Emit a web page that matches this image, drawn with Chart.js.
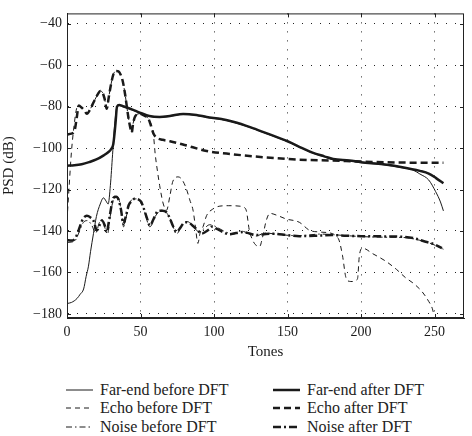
<!DOCTYPE html>
<html>
<head>
<meta charset="utf-8">
<script src="https://cdn.jsdelivr.net/npm/chart.js@4.4.0/dist/chart.umd.min.js"></script>
<style>
body { margin:0; background:#fff; }
#wrap { position:relative; width:472px; height:436px; }
#c { position:absolute; left:0; top:0; }
.leg { position:absolute; font:16px "Liberation Serif", serif; color:#222; line-height:18px; white-space:nowrap; }
.leg svg { position:absolute; left:0; top:4px; }
.leg span { position:absolute; left:34px; top:0; }
</style>
</head>
<body>
<div id="wrap">
  <canvas id="c" width="472" height="365"></canvas>
  <div id="legend"></div>
</div>
<script>
// axis ticks
const xTicks = [0, 50, 100, 150, 200, 250];
const yTicks = [-40, -60, -80, -100, -120, -140, -160, -180];

// far-end signal (thin = before DFT, thick = after DFT)
const farBeforeT = [0, 3, 6.8, 9, 11.3, 13, 14.6, 16, 18, 20, 22.6, 24.8, 26.5, 28, 29.5, 31, 32.5, 34, 35.5, 38, 43, 50, 56, 63, 70, 79, 88, 95, 105, 113, 125, 135.5, 150, 160, 167, 175, 181, 192, 200, 215, 228, 235, 240, 246, 250.7, 254, 256];
const farBeforeV = [-175, -174.5, -172.6, -170.5, -168, -162, -157, -150, -141.3, -133, -127, -124, -125.5, -127, -118, -103, -88, -80, -79.4, -80, -81.2, -83.2, -84.7, -85.2, -84.7, -83.7, -84.2, -85.2, -86.2, -87.5, -90.2, -93, -96.9, -100.2, -102.4, -104.2, -105.5, -106.2, -107, -108, -109.5, -110.5, -112.5, -115.4, -121, -126, -130.3];
const farAfterT = [0, 5, 10, 15, 20, 25, 28, 30, 31.5, 33, 34, 35.5, 38, 43, 50, 56, 63, 70, 79, 88, 95, 105, 113, 125, 135.5, 150, 160, 167, 175, 181, 192, 200, 215, 228, 240, 246, 251, 256];
const farAfterV = [-108.5, -108.3, -107.8, -106.8, -105.5, -103.5, -102, -100.5, -98, -88, -80, -79.2, -79.8, -81, -83, -84.5, -85, -84.5, -83.5, -84, -85, -86, -87.3, -90, -92.8, -96.7, -100, -102.2, -104, -105.3, -106, -106.8, -107.8, -109.2, -111, -112.3, -114.5, -117];

// echo
const echoBeforeT = [0, 1.5, 3, 5, 6.5, 8, 10, 12, 13.5, 16, 18, 21, 22.6, 24, 25.5, 27, 28.5, 30, 31.6, 33.5, 35, 36.5, 38, 39.5, 41.7, 43, 44, 45, 46.5, 49.7, 53, 55.3, 57, 58.7, 60, 61.5, 63, 65.5, 67.7, 70, 72, 75.6, 78, 81, 83.5, 85.8, 87.5, 89, 90.5, 92.5, 95, 99, 104, 110, 117, 120, 122, 124, 126, 128, 131, 133, 135.5, 138, 143, 149, 158, 165, 172, 180.6, 183, 185, 187.4, 189.7, 192, 194, 196.5, 197.6, 198.8, 201, 208, 216.8, 224, 230, 236, 241.6, 246, 248.4, 249.5];
const echoBeforeV = [-135, -118, -102, -88, -81, -79.5, -80.5, -82, -83.4, -81, -78, -74, -72.5, -73, -76, -81, -75, -69, -64.3, -62.8, -63, -64.6, -68, -74, -85, -90, -92.5, -88, -84.5, -83.4, -84.5, -85.7, -88, -93, -103, -111, -118, -127, -130, -123, -116, -113.9, -115, -119.3, -125, -130.3, -139, -146, -141, -138, -132.5, -129.5, -128, -127.8, -128, -128.5, -130.3, -139.7, -144, -146.5, -147.5, -143, -135, -131.5, -132.5, -134.2, -135.8, -139.7, -140.5, -141.3, -142.5, -144.4, -152, -162.5, -164.3, -164.4, -163.8, -163, -152.2, -148.3, -151, -154.6, -158.5, -162.4, -165.5, -169.4, -174, -177.3, -180.3];
const echoAfterT = [0, 3, 5, 6.5, 8, 10, 12, 13.5, 16, 18, 21, 22.6, 24, 25.5, 27, 28.5, 30, 31.6, 33.5, 35, 36.5, 38, 39.5, 41.7, 43, 44, 45, 46.5, 49.7, 53, 55.3, 57, 58.7, 61, 65, 70, 80, 95, 113, 135, 158, 180, 200, 230, 256];
const echoAfterV = [-93.5, -93, -92, -86, -79.5, -80.5, -82, -83.4, -81, -78, -74, -72.5, -73, -76, -81, -75, -69, -64.3, -62.8, -63, -64.6, -68, -74, -85, -90, -92.5, -88, -84.5, -83.4, -84.5, -85.7, -89, -92.8, -95, -96, -96.7, -98.5, -101.4, -103, -104.5, -105.6, -106, -106.5, -107, -107.1];

// noise
const noiseBeforeT = [0, 5, 8, 11, 14, 17, 19.5, 22, 24, 26, 27.5, 30, 32.5, 35, 37, 38.5, 41, 44, 48, 52, 56.4, 60, 64, 68, 71, 74.5, 78, 82, 86, 90, 93, 97, 100, 104, 108, 113, 118, 123, 128, 135, 145, 158, 172, 185, 200, 215, 230, 240, 248, 256];
const noiseBeforeV = [-145.5, -145, -141, -136, -135, -137.5, -141, -136, -134.5, -139, -141.5, -130, -123, -124, -131, -138, -131, -125, -124.5, -129, -138, -133, -130, -131.5, -135.5, -141.5, -137.5, -135.5, -138, -140.5, -139, -137, -137.5, -139, -140.5, -141.5, -140, -141, -142.5, -141, -141.8, -142.3, -141.5, -142, -142.7, -143, -143.2, -144.5, -146.2, -148.8];
const noiseAfterT = [0, 3, 5.6, 7.5, 9, 11, 13.5, 16, 18, 20.3, 22, 23.7, 25.5, 27, 29, 31.6, 33.5, 35, 36.8, 38.3, 40, 42, 44, 46, 48.5, 50.5, 52, 54, 56.4, 59, 62, 65, 67.7, 70, 72, 74.5, 77, 79, 81.3, 84, 86, 88, 90, 91.5, 94, 97, 99, 102, 106, 110.6, 115, 119.6, 124, 128.7, 134, 140, 150, 158, 170, 180.6, 190, 200, 214, 228, 236, 243.9, 250, 255];
const noiseAfterV = [-144.4, -144.6, -143.6, -140.5, -137.4, -134, -132.7, -133.5, -135, -139.7, -137.5, -135, -137, -140.5, -133, -124, -123.5, -124.8, -130, -136.6, -133, -127.5, -125.6, -124.5, -124.8, -126, -128.7, -133, -137.4, -134, -130.3, -130.2, -131, -134, -137.5, -140.5, -138.5, -136.5, -135.8, -136.5, -137.8, -139, -140.5, -141.3, -140.5, -139, -137.8, -139, -140.5, -141.6, -141, -140.5, -141.2, -142, -141.6, -141.3, -142, -142.5, -142.3, -142, -142.3, -142.5, -142.6, -142.8, -143.5, -145.2, -146.5, -148.3];

const serif = '"Liberation Serif", serif';
const ink = '#1a1a1a';

function pts(t, v) {
  return t.map((x, i) => ({ x: x, y: v[i] }));
}

// line styles, same order as legend
const styles = [
  { label: 'Far-end before DFT', t: farBeforeT, v: farBeforeV, w: 1, dash: [] },
  { label: 'Far-end after DFT', t: farAfterT, v: farAfterV, w: 2.5, dash: [] },
  { label: 'Echo before DFT', t: echoBeforeT, v: echoBeforeV, w: 1, dash: [5, 4] },
  { label: 'Echo after DFT', t: echoAfterT, v: echoAfterV, w: 2.5, dash: [7, 4] },
  { label: 'Noise before DFT', t: noiseBeforeT, v: noiseBeforeV, w: 1, dash: [6, 3, 1.5, 3] },
  { label: 'Noise after DFT', t: noiseAfterT, v: noiseAfterV, w: 2.5, dash: [8, 3, 2, 3] }
];

// box round the plot plus little inward ticks (matlab look)
const boxPlugin = {
  id: 'box',
  afterDraw(chart) {
    const a = chart.chartArea, c = chart.ctx;
    const xs = chart.scales.x, ys = chart.scales.y;
    c.save();
    c.strokeStyle = '#222';
    c.lineWidth = 1;
    c.strokeRect(a.left + 0.5, a.top + 0.5, a.right - a.left - 1, a.bottom - a.top - 1);
    c.beginPath();
    xTicks.forEach(v => {
      const px = Math.round(xs.getPixelForValue(v)) + 0.5;
      c.moveTo(px, a.bottom); c.lineTo(px, a.bottom - 4);
      c.moveTo(px, a.top); c.lineTo(px, a.top + 4);
    });
    yTicks.forEach(v => {
      const py = Math.round(ys.getPixelForValue(v)) + 0.5;
      c.moveTo(a.left, py); c.lineTo(a.left + 4, py);
      c.moveTo(a.right, py); c.lineTo(a.right - 4, py);
    });
    c.stroke();
    c.restore();
  }
};

const ctx = document.getElementById('c').getContext('2d');
new Chart(ctx, {
  type: 'scatter',
  data: {
    datasets: styles.map(s => ({
      label: s.label,
      data: pts(s.t, s.v),
      showLine: true,
      borderColor: ink,
      borderWidth: s.w,
      borderDash: s.dash,
      pointRadius: 0,
      fill: false,
      cubicInterpolationMode: 'monotone'
    }))
  },
  options: {
    responsive: false,
    animation: false,
    layout: { padding: { top: 4, right: 8, left: 0, bottom: 0 } },
    plugins: { legend: { display: false }, tooltip: { enabled: false } },
    scales: {
      x: {
        type: 'linear', min: 0, max: 270,
        afterBuildTicks: s => { s.ticks = xTicks.map(v => ({ value: v })); },
        afterFit: s => { s.height = 47; },
        grid: { color: '#222', drawTicks: false },
        border: { color: '#222', dash: [1, 8] },
        ticks: { padding: 6, color: ink, font: { family: serif, size: 14 } },
        title: { display: true, text: 'Tones', color: ink, font: { family: serif, size: 15 }, padding: { top: 0, bottom: 4 } }
      },
      y: {
        type: 'linear', min: -182, max: -35,
        afterBuildTicks: s => { s.ticks = yTicks.map(v => ({ value: v })); },
        afterFit: s => { s.width = 67; },
        grid: { color: '#222', drawTicks: false },
        border: { color: '#222', dash: [1, 8] },
        ticks: {
          padding: 5, color: ink, font: { family: serif, size: 14 },
          callback: v => (v < 0 ? '\u2212' + Math.abs(v) : '' + v)
        },
        title: { display: true, text: 'PSD (dB)', color: ink, font: { family: serif, size: 15 }, padding: { top: 0, bottom: 0 } }
      }
    }
  },
  plugins: [boxPlugin]
});

// legend below, two columns like the paper figure
const legPos = [[66, 381], [273, 381], [66, 399], [273, 399], [66, 418], [273, 418]];
const leg = document.getElementById('legend');
styles.forEach((s, i) => {
  const d = document.createElement('div');
  d.className = 'leg';
  d.style.left = legPos[i][0] + 'px';
  d.style.top = legPos[i][1] + 'px';
  d.innerHTML = '<svg width="28" height="10"><line x1="0" y1="5" x2="27" y2="5" stroke="' + ink +
    '" stroke-width="' + s.w + '" stroke-dasharray="' + (s.dash.length ? s.dash.join(' ') : 'none') +
    '"/></svg><span>' + s.label + '</span>';
  leg.appendChild(d);
});
</script>
</body>
</html>
